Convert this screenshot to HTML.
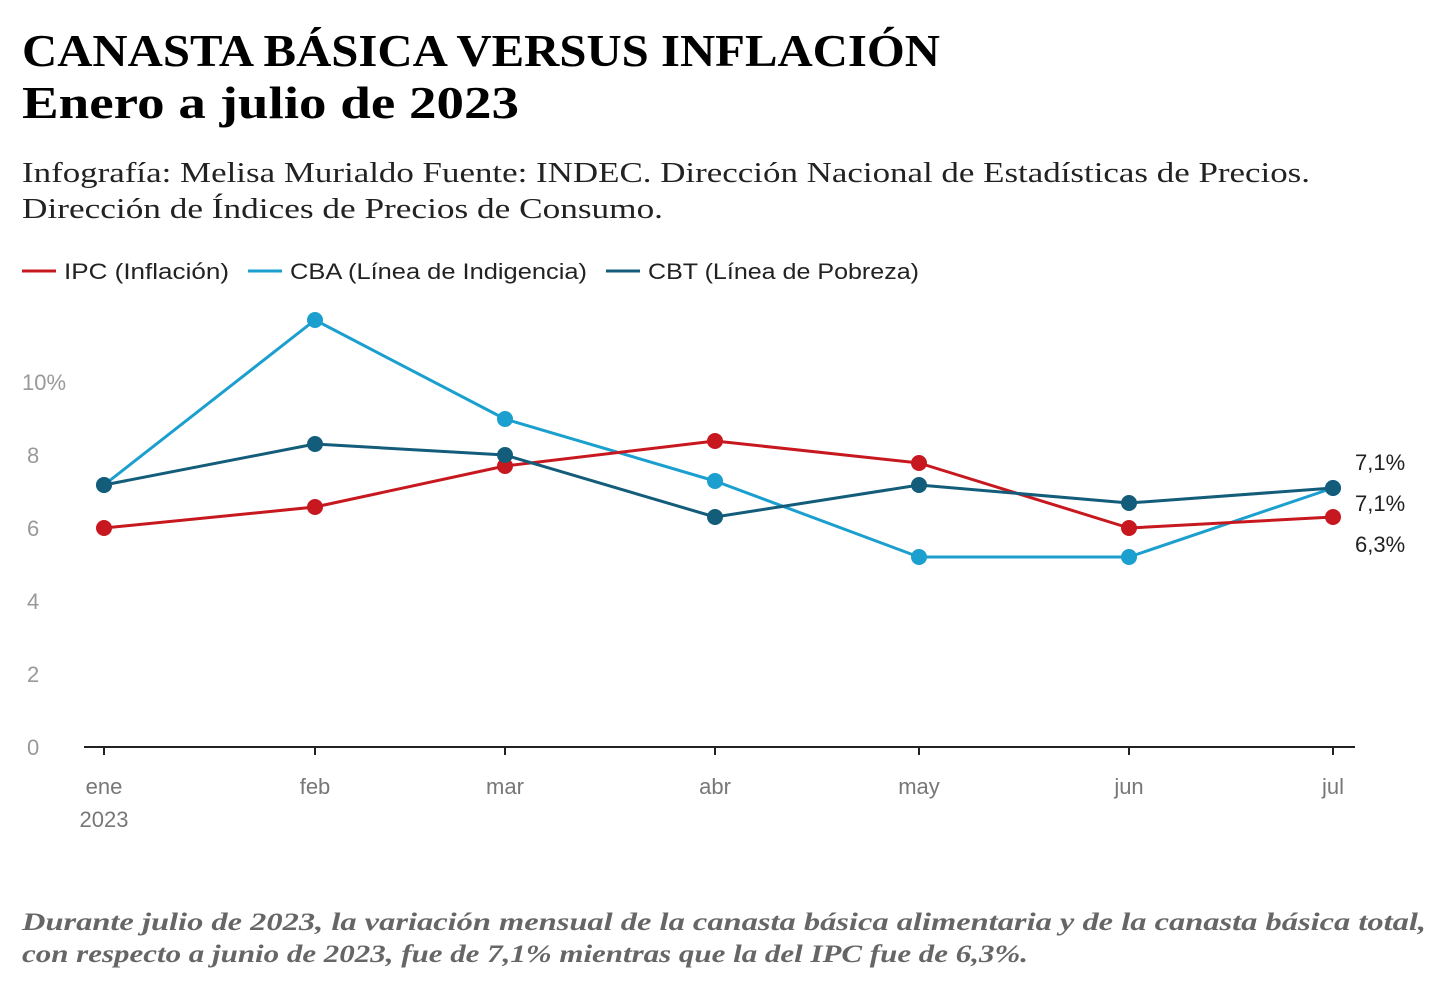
<!DOCTYPE html>
<html><head><meta charset="utf-8"><style>
html,body{margin:0;padding:0;background:#fff;}
svg{display:block}
</style></head><body>
<svg width="1452" height="983" viewBox="0 0 1452 983" xmlns="http://www.w3.org/2000/svg">
<rect width="1452" height="983" fill="#fff"/>
<g font-family="'Liberation Serif',serif" font-weight="bold" fill="#000" font-size="46">
<text x="22" y="66" textLength="918" lengthAdjust="spacingAndGlyphs">CANASTA BÁSICA VERSUS INFLACIÓN</text>
<text x="22" y="118" textLength="497" lengthAdjust="spacingAndGlyphs">Enero a julio de 2023</text>
</g>
<g font-family="'Liberation Serif',serif" fill="#222" font-size="29">
<text x="22" y="182" textLength="1288" lengthAdjust="spacingAndGlyphs">Infografía: Melisa Murialdo Fuente: INDEC. Dirección Nacional de Estadísticas de Precios.</text>
<text x="22" y="218" textLength="641" lengthAdjust="spacingAndGlyphs">Dirección de Índices de Precios de Consumo.</text>
</g>
<g font-family="'Liberation Sans',sans-serif" font-size="22" fill="#222">
<line x1="22" y1="271" x2="56" y2="271" stroke="#c8181f" stroke-width="3"/>
<text x="64" y="279" textLength="165" lengthAdjust="spacingAndGlyphs">IPC (Inflación)</text>
<line x1="248" y1="271" x2="282" y2="271" stroke="#1a9fcf" stroke-width="3"/>
<text x="290" y="279" textLength="297" lengthAdjust="spacingAndGlyphs">CBA (Línea de Indigencia)</text>
<line x1="606" y1="271" x2="640" y2="271" stroke="#135d7a" stroke-width="3"/>
<text x="648" y="279" textLength="271" lengthAdjust="spacingAndGlyphs">CBT (Línea de Pobreza)</text>
</g>
<g font-family="'Liberation Sans',sans-serif" font-size="22" fill="#999">
<text x="22" y="390">10%</text>
<text x="27" y="463">8</text>
<text x="27" y="536">6</text>
<text x="27" y="609">4</text>
<text x="27" y="682">2</text>
<text x="27" y="755">0</text>
</g>
<line x1="84" y1="747" x2="1355" y2="747" stroke="#222" stroke-width="2"/>
<g stroke="#222" stroke-width="2">
<line x1="104" y1="747" x2="104" y2="755"/><line x1="315" y1="747" x2="315" y2="755"/>
<line x1="505" y1="747" x2="505" y2="755"/><line x1="715" y1="747" x2="715" y2="755"/>
<line x1="919" y1="747" x2="919" y2="755"/><line x1="1129" y1="747" x2="1129" y2="755"/>
<line x1="1333" y1="747" x2="1333" y2="755"/>
</g>
<g font-family="'Liberation Sans',sans-serif" font-size="22" fill="#777" text-anchor="middle">
<text x="104" y="794">ene</text><text x="104" y="827">2023</text>
<text x="315" y="794">feb</text><text x="505" y="794">mar</text><text x="715" y="794">abr</text>
<text x="919" y="794">may</text><text x="1129" y="794">jun</text><text x="1333" y="794">jul</text>
</g>
<g fill="none" stroke-width="3" stroke-linejoin="round">
<polyline stroke="#1a9fcf" points="104,485 315,320 505,419 715,481 919,557 1129,557 1333,488"/>
<polyline stroke="#c8181f" points="104,528 315,507 505,466 715,441 919,463 1129,528 1333,517"/>
<polyline stroke="#135d7a" points="104,485 315,444 505,455 715,517 919,485 1129,503 1333,488"/>
</g>
<g fill="#1a9fcf">
<circle cx="104" cy="485" r="8"/><circle cx="315" cy="320" r="8"/><circle cx="505" cy="419" r="8"/><circle cx="715" cy="481" r="8"/><circle cx="919" cy="557" r="8"/><circle cx="1129" cy="557" r="8"/><circle cx="1333" cy="488" r="8"/>
</g>
<g fill="#c8181f">
<circle cx="104" cy="528" r="8"/><circle cx="315" cy="507" r="8"/><circle cx="505" cy="466" r="8"/><circle cx="715" cy="441" r="8"/><circle cx="919" cy="463" r="8"/><circle cx="1129" cy="528" r="8"/><circle cx="1333" cy="517" r="8"/>
</g>
<g fill="#135d7a">
<circle cx="104" cy="485" r="8"/><circle cx="315" cy="444" r="8"/><circle cx="505" cy="455" r="8"/><circle cx="715" cy="517" r="8"/><circle cx="919" cy="485" r="8"/><circle cx="1129" cy="503" r="8"/><circle cx="1333" cy="488" r="8"/>
</g>
<g font-family="'Liberation Sans',sans-serif" font-size="22" fill="#222">
<text x="1355" y="470">7,1%</text>
<text x="1355" y="511">7,1%</text>
<text x="1355" y="552">6,3%</text>
</g>
<g font-family="'Liberation Serif',serif" font-style="italic" font-weight="bold" font-size="25" fill="#666">
<text x="22" y="930" textLength="1404" lengthAdjust="spacingAndGlyphs">Durante julio de 2023, la variación mensual de la canasta básica alimentaria y de la canasta básica total,</text>
<text x="22" y="962" textLength="1006" lengthAdjust="spacingAndGlyphs">con respecto a junio de 2023, fue de 7,1% mientras que la del IPC fue de 6,3%.</text>
</g>
</svg>
</body></html>
